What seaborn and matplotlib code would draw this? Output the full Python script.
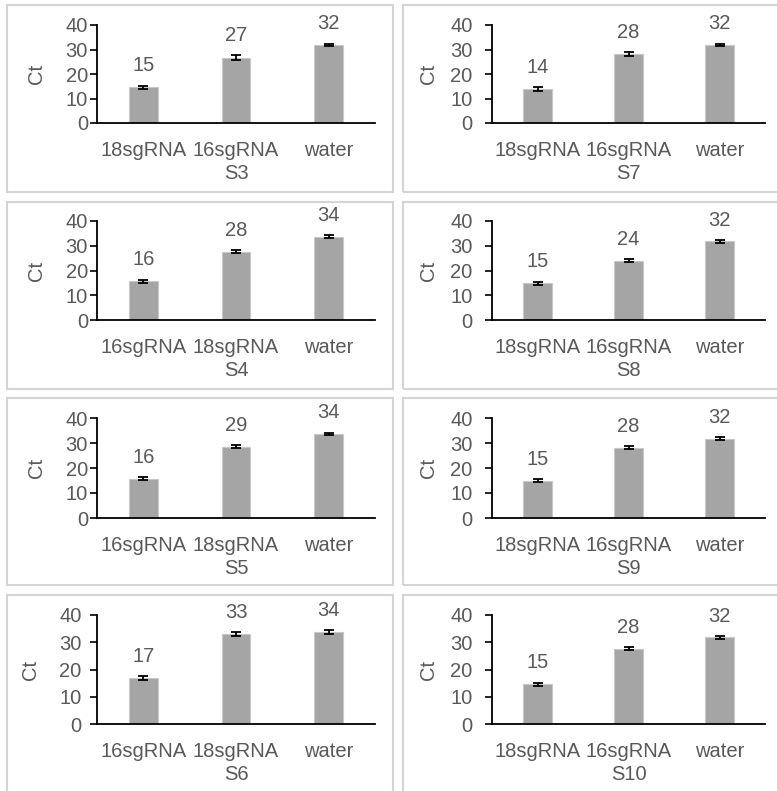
import matplotlib
matplotlib.use("Agg")
import matplotlib.pyplot as plt
from matplotlib.patches import Rectangle
import seaborn as sns

# categories (two orders used in the panels)
cats_18_first = ["18sgRNA", "16sgRNA", "water"]
cats_16_first = ["16sgRNA", "18sgRNA", "water"]

# sample names, row by row (left, right)
samples = ["S3", "S7", "S4", "S8", "S5", "S9", "S6", "S10"]

# mean Ct values
ct_s3 = [14.6, 26.7, 31.9]
ct_s7 = [13.8, 28.1, 31.9]
ct_s4 = [15.6, 27.6, 33.7]
ct_s8 = [14.8, 24.0, 31.8]
ct_s5 = [15.7, 28.6, 33.7]
ct_s9 = [15.0, 28.2, 31.7]
ct_s6 = [16.9, 32.9, 33.8]
ct_s10 = [14.6, 27.6, 31.8]

# error bars (sd)
err_s3 = [0.7, 0.9, 0.5]
err_s7 = [0.7, 0.8, 0.5]
err_s4 = [0.7, 0.6, 0.6]
err_s8 = [0.7, 0.6, 0.5]
err_s5 = [0.6, 0.6, 0.5]
err_s9 = [0.6, 0.6, 0.6]
err_s6 = [0.6, 0.7, 0.6]
err_s10 = [0.6, 0.6, 0.5]

cats = [cats_18_first, cats_18_first, cats_16_first, cats_18_first,
        cats_16_first, cats_18_first, cats_16_first, cats_18_first]
cts = [ct_s3, ct_s7, ct_s4, ct_s8, ct_s5, ct_s9, ct_s6, ct_s10]
errs = [err_s3, err_s7, err_s4, err_s8, err_s5, err_s9, err_s6, err_s10]

sns.set_theme(style="white")
plt.rcParams["font.family"] = ["Liberation Sans", "DejaVu Sans"]

W, H = 777, 791
fig = plt.figure(figsize=(W / 100, H / 100), dpi=100)
fig.patch.set_facecolor("white")

txt = "#595959"
bar_col = "#A5A5A5"
fs = 14.5

# pixel layout: axes x-range per column, axes y-range per row (y at 40, y at 0)
col_x = [(97, 375), (492, 765)]
row_y = [(25, 123), (221, 320), (418, 518), (615, 724)]
# panel frames
box_x = [(7, 393), (403, 790)]
box_y = [(5, 192), (202, 389), (398, 585), (595, 800)]
ytick_pad = [[1.5, 9], [1.5, 9], [1.5, 9], [6, 9]]
ylabel_pad = [14, 9]

for i, name in enumerate(samples):
    r, c = divmod(i, 2)
    x0, x1 = col_x[c]
    ytop, ybot = row_y[r]
    ax = fig.add_axes([x0 / W, 1 - ybot / H, (x1 - x0) / W, (ybot - ytop) / H])

    bx0, bx1 = box_x[c]
    by0, by1 = box_y[r]
    fig.add_artist(Rectangle((bx0 / W, 1 - by1 / H), (bx1 - bx0) / W, (by1 - by0) / H,
                             transform=fig.transFigure, fill=False,
                             edgecolor="#d4d4d4", linewidth=1.5, zorder=0))

    sns.barplot(x=cats[i], y=cts[i], ax=ax, color=bar_col, saturation=1,
                width=0.31, errorbar=None, edgecolor="#c8c8c8", linewidth=0.8)
    ax.errorbar(x=range(3), y=cts[i], yerr=errs[i], fmt="none", ecolor="black",
                elinewidth=1.3, capsize=3.5, capthick=1.3)
    for k, (v, e) in enumerate(zip(cts[i], errs[i])):
        ax.annotate(f"{v:.0f}", (k, v + e), xytext=(0, 7.5), textcoords="offset points",
                    ha="center", va="bottom", fontsize=fs, color=txt)

    ax.set_xlim(-0.5, 2.5)
    ax.set_ylim(0, 40)
    ax.set_yticks([0, 10, 20, 30, 40])
    ax.set_xticks([0.5, 1.5, 2.5], minor=True)
    ax.tick_params(axis="x", which="major", length=0, pad=13, labelsize=fs, labelcolor=txt)
    ax.tick_params(axis="x", which="minor", direction="in", length=5, width=1.2, color="black")
    ax.tick_params(axis="y", which="major", direction="out", length=5, width=1.2,
                   color="black", left=True, pad=ytick_pad[r][c], labelsize=fs, labelcolor=txt)
    for s in ["top", "right"]:
        ax.spines[s].set_visible(False)
    for s in ["left", "bottom"]:
        ax.spines[s].set_color("black")
        ax.spines[s].set_linewidth(1.3)
    ax.set_facecolor("none")
    ax.set_xlabel(name, fontsize=fs, color=txt, labelpad=3)
    ax.set_ylabel("Ct", fontsize=fs, color=txt, labelpad=ylabel_pad[c])

fig.savefig("out.png", dpi=100)
